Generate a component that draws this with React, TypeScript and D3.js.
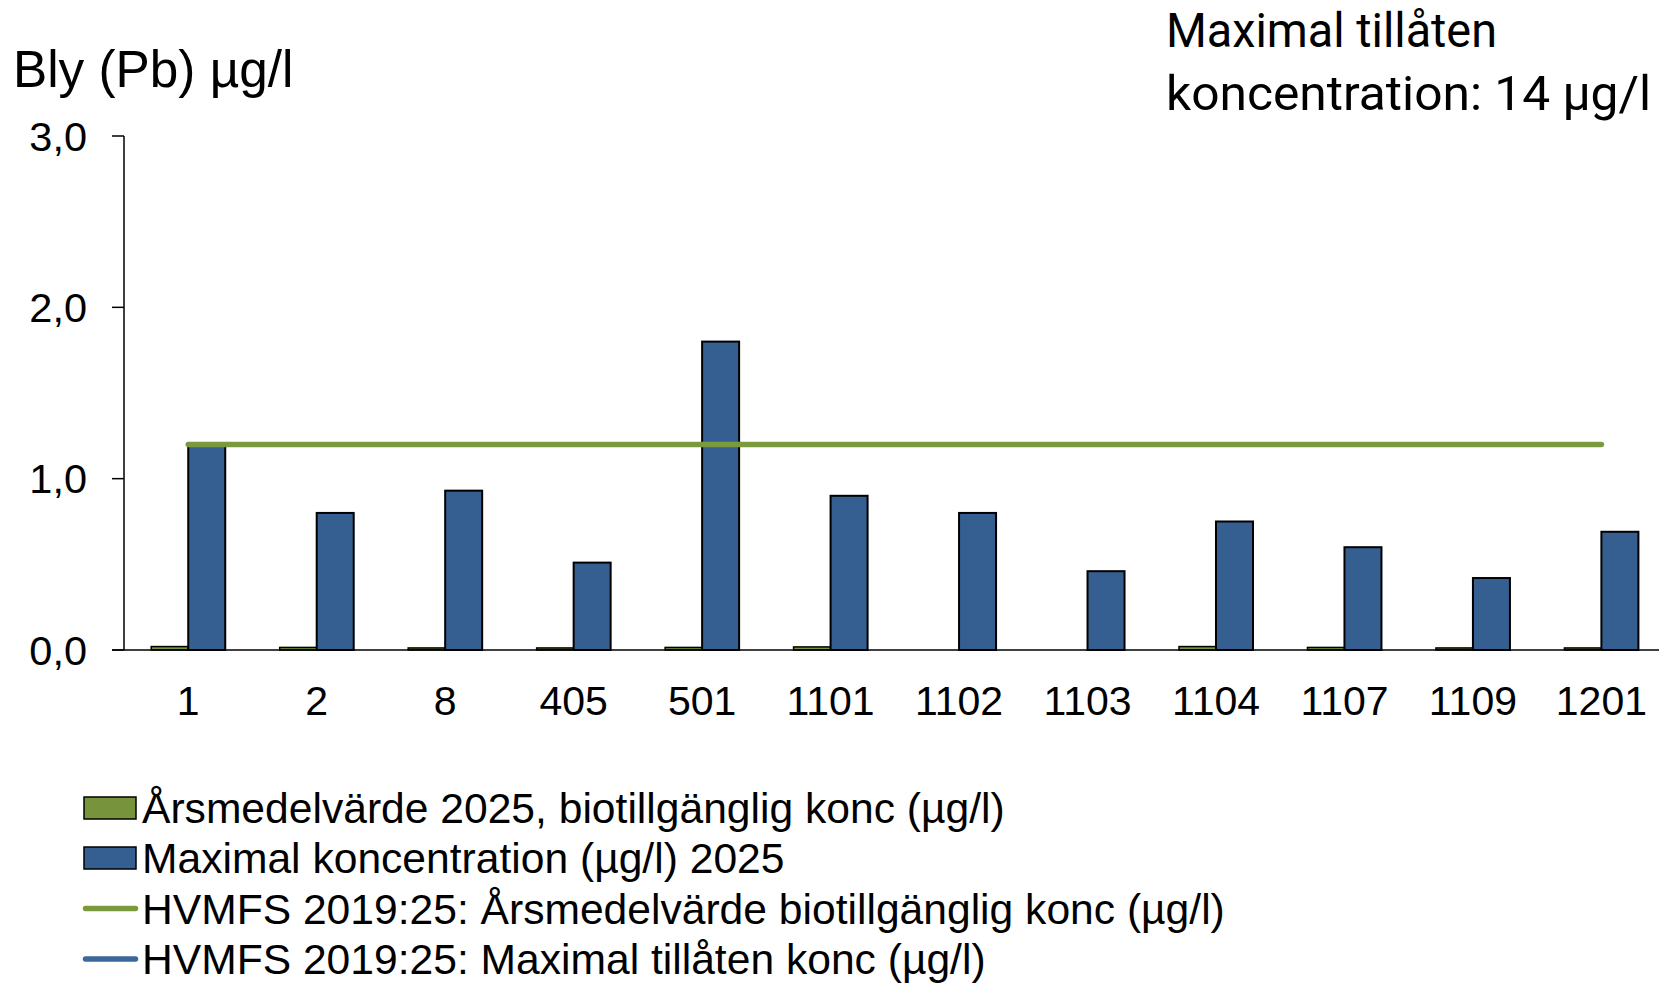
import React from 'react';
import * as d3 from 'd3';

const categories = ['1', '2', '8', '405', '501', '1101', '1102', '1103', '1104', '1107', '1109', '1201'];
const annualMean2025 = [0.02, 0.015, 0.012, 0.012, 0.015, 0.018, 0, 0, 0.02, 0.015, 0.012, 0.012];
const maxConc2025 = [1.2, 0.8, 0.93, 0.51, 1.8, 0.9, 0.8, 0.46, 0.75, 0.6, 0.42, 0.69];
const limitAnnualMean = [1.2, 1.2, 1.2, 1.2, 1.2, 1.2, 1.2, 1.2, 1.2, 1.2, 1.2, 1.2];
const limitMax = [14, 14, 14, 14, 14, 14, 14, 14, 14, 14, 14, 14];
const yTicks = [0, 1, 2, 3];
const legendLabels = [
  'Årsmedelvärde 2025, biotillgänglig konc (µg/l)',
  'Maximal koncentration (µg/l) 2025',
  'HVMFS 2019:25: Årsmedelvärde biotillgänglig konc (µg/l)',
  'HVMFS 2019:25: Maximal tillåten konc (µg/l)',
];
const yTitle = 'Bly (Pb) µg/l';
const noteLines = ['Maximal tillåten', 'koncentration: 14 µg/l'];
const noteWidths = [331, 485];

const W = 1659;
const H = 983;
const GREEN_BAR = '#77933C';
const BLUE_BAR = '#365F91';
const GREEN_LINE = '#7B9A3D';
const BLUE_LINE = '#3C679A';
const FONT = '"Liberation Sans", Arial, sans-serif';

export default function App() {
  const plotLeft = 124;
  const step = 128.47;
  const x0 = d3
    .scaleBand<string>()
    .domain(categories)
    .range([plotLeft, plotLeft + step * categories.length])
    .paddingInner(0.424)
    .paddingOuter(0.212);
  const x1 = d3.scaleBand<string>().domain(['avg', 'max']).range([0, x0.bandwidth()]);
  const y = d3.scaleLinear().domain([0, 3]).range([650, 136]);
  const fmt = (v: number) => d3.format('.1f')(v).replace('.', ',');
  const center = (c: string) => (x0(c) as number) + x0.bandwidth() / 2;

  const lineGen = d3
    .line<number>()
    .x((_, i) => center(categories[i]))
    .y((d) => y(d));

  const legendRowY = [808, 858, 908.5, 959];

  return (
    <div style={{ position: 'absolute', left: 0, top: 0 }}>
      <svg width={W} height={H} style={{ display: 'block', background: '#fff' }}>
        <defs>
          <clipPath id="plotClip">
            <rect x={plotLeft} y={y(3) - 10} width={W} height={y(0) - y(3) + 10} />
          </clipPath>
        </defs>
        <rect x={0} y={0} width={W} height={H} fill="#fff" />

        {/* title */}
        <text x={13} y={87} fontFamily={FONT} fontSize={51.3} fill="#000">
          {yTitle}
        </text>

        {/* annotation */}
        <g fontFamily="Roboto, sans-serif" fontSize={48} fill="#000">
          {noteLines.map((t, i) => (
            <text
              key={t}
              x={1166}
              y={47 + i * 63.3}
              textLength={noteWidths[i]}
              lengthAdjust="spacingAndGlyphs"
            >
              {t}
            </text>
          ))}
        </g>

        {/* bars */}
        {categories.map((c, i) => (
          <g key={c}>
            {annualMean2025[i] > 0 && (
              <rect
                x={(x0(c) as number) + (x1('avg') as number)}
                y={y(annualMean2025[i])}
                width={x1.bandwidth()}
                height={y(0) - y(annualMean2025[i])}
                fill={GREEN_BAR}
                stroke="#000"
                strokeWidth={1.5}
              />
            )}
            <rect
              x={(x0(c) as number) + (x1('max') as number)}
              y={y(maxConc2025[i])}
              width={x1.bandwidth()}
              height={y(0) - y(maxConc2025[i])}
              fill={BLUE_BAR}
              stroke="#000"
              strokeWidth={2}
            />
          </g>
        ))}

        {/* y axis */}
        <line x1={plotLeft} x2={plotLeft} y1={y(3)} y2={y(0)} stroke="#000" strokeWidth={1.5} />
        {yTicks.map((t) => (
          <g key={t}>
            <line x1={plotLeft - 12} x2={plotLeft} y1={y(t)} y2={y(t)} stroke="#000" strokeWidth={1.5} />
            <text
              x={87}
              y={y(t)}
              textAnchor="end"
              dominantBaseline="central"
              fontFamily={FONT}
              fontSize={41.5}
              fill="#000"
            >
              {fmt(t)}
            </text>
          </g>
        ))}

        {/* x axis */}
        <line x1={plotLeft - 12} x2={W} y1={y(0)} y2={y(0)} stroke="#000" strokeWidth={1.5} />
        {categories.map((c) => (
          <text
            key={c}
            x={center(c)}
            y={715}
            textAnchor="middle"
            fontFamily={FONT}
            fontSize={41}
            fill="#000"
          >
            {c}
          </text>
        ))}

        {/* reference lines */}
        <g clipPath="url(#plotClip)">
          <path
            d={lineGen(limitAnnualMean) || ''}
            fill="none"
            stroke={GREEN_LINE}
            strokeWidth={5.5}
            strokeLinecap="round"
          />
          <path
            d={lineGen(limitMax) || ''}
            fill="none"
            stroke={BLUE_LINE}
            strokeWidth={5.5}
            strokeLinecap="round"
          />
        </g>

        {/* legend */}
        <g fontFamily={FONT} fontSize={42.6} fill="#000">
          <rect x={84} y={legendRowY[0] - 11} width={52} height={22} fill={GREEN_BAR} stroke="#000" strokeWidth={1.5} />
          <rect x={84} y={legendRowY[1] - 11} width={52} height={22} fill={BLUE_BAR} stroke="#000" strokeWidth={1.5} />
          <line x1={85.5} x2={135.5} y1={legendRowY[2]} y2={legendRowY[2]} stroke={GREEN_LINE} strokeWidth={5.5} strokeLinecap="round" />
          <line x1={85.5} x2={135.5} y1={legendRowY[3]} y2={legendRowY[3]} stroke={BLUE_LINE} strokeWidth={5.5} strokeLinecap="round" />
          {legendLabels.map((l, i) => (
            <text key={l} x={142} y={legendRowY[i] + 15}>
              {l}
            </text>
          ))}
        </g>
      </svg>
    </div>
  );
}
